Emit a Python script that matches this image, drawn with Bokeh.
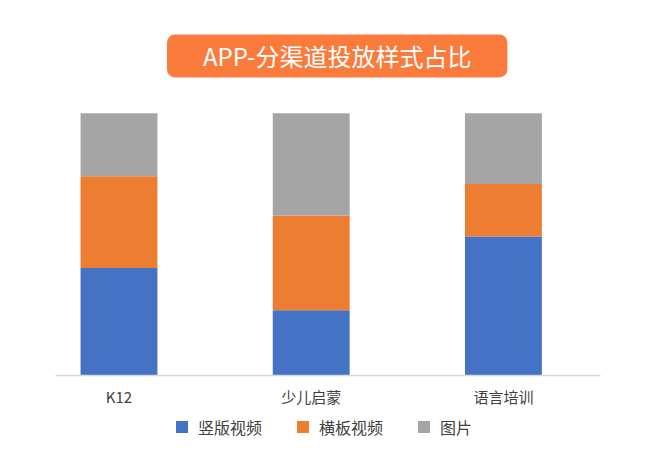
from bokeh.plotting import figure
from bokeh.models import ColumnDataSource, Range1d, FixedTicker, Legend, LegendItem, Label
from bokeh.embed import file_html
from bokeh.resources import INLINE

categories = ["K12", "少儿启蒙", "语言培训"]
series = ["竖版视频", "横板视频", "图片"]
vertical = [41, 25, 53]
horizontal = [35, 36, 20]
images = [24, 39, 27]
colors = ["#4472C4", "#ED7D31", "#A5A5A5"]
title_text = "APP-分渠道投放样式占比"

FONT = "Noto Sans CJK SC"

xs = list(range(len(categories)))
source = ColumnDataSource(dict(x=xs, v=vertical, h=horizontal, i=images))

p = figure(width=654, height=454,
           x_range=Range1d(-0.6165, 2.786), y_range=Range1d(-29.97, 142.9),
           output_backend="svg", toolbar_location=None,
           min_border_left=0, min_border_right=0,
           min_border_top=0, min_border_bottom=0)

renderers = p.vbar_stack(["v", "h", "i"], x="x", width=0.4, color=colors,
                         line_color=None, source=source)

p.yaxis.visible = False
p.xgrid.visible = False
p.ygrid.visible = False
p.outline_line_color = None
p.background_fill_color = "white"
p.border_fill_color = "white"

ax = p.xaxis[0]
ax.fixed_location = 0
ax.bounds = (-0.33, 2.505)
ax.ticker = FixedTicker(ticks=xs)
ax.major_label_overrides = {i: c for i, c in zip(xs, categories)}
ax.axis_line_color = "#D9D9D9"
ax.axis_line_width = 1.5
ax.major_tick_line_color = None
ax.minor_tick_line_color = None
ax.major_tick_out = 0
ax.major_tick_in = 0
ax.major_label_standoff = 10
ax.major_label_text_font = FONT
ax.major_label_text_font_size = "15px"
ax.major_label_text_color = "#404040"

legend = Legend(items=[LegendItem(label=s, renderers=[r]) for s, r in zip(series, renderers)],
                orientation="horizontal", location=(174, 15.5))
legend.label_text_font = FONT
legend.label_text_font_size = "16px"
legend.label_text_color = "#404040"
legend.glyph_width = 15
legend.glyph_height = 15
legend.label_height = 15
legend.label_standoff = 9
legend.spacing = 33
legend.border_line_color = None
legend.background_fill_alpha = 0
legend.margin = 0
legend.padding = 0
p.add_layout(legend)

title = Label(x=336.7, y=398.6, x_units="screen", y_units="screen",
              text=title_text, text_color="white", text_font=FONT,
              text_font_size="24px", text_align="center", text_baseline="middle",
              background_fill_color="#FA7B3C", border_radius=8,
              padding=dict(left=36, right=36, top=4, bottom=4))
p.add_layout(title)

open("out.html", "w").write(file_html(p, INLINE))
